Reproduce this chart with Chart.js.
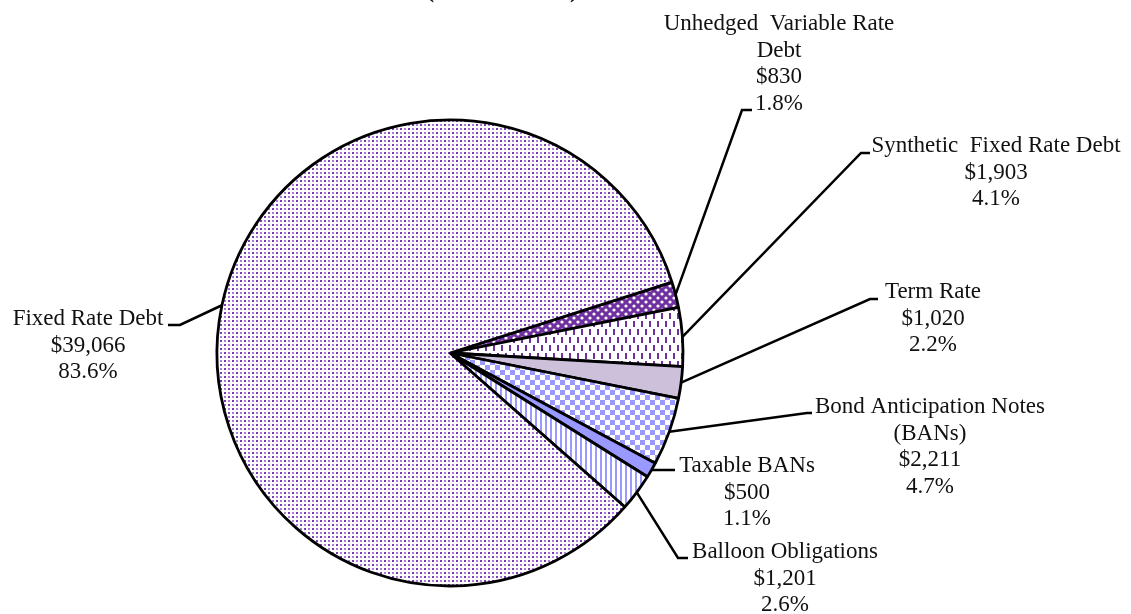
<!DOCTYPE html>
<html>
<head>
<meta charset="utf-8">
<script src="https://cdn.jsdelivr.net/npm/chart.js@4.4.1/dist/chart.umd.min.js"></script>
<style>
  body { margin: 0; background: #fff; }
  #wrap { width: 1131px; height: 614px; }
</style>
</head>
<body>
<div id="wrap"><canvas id="debtPie" width="1131" height="614"></canvas></div>
<script>
// debt by type, $ in millions
const categories = [
  'Unhedged  Variable Rate\nDebt',
  'Synthetic  Fixed Rate Debt',
  'Term Rate',
  'Bond Anticipation Notes\n(BANs)',
  'Taxable BANs',
  'Balloon Obligations',
  'Fixed Rate Debt'
];
const amounts = [830, 1903, 1020, 2211, 500, 1201, 39066];
const chartTitle = '($ in millions)';

const total = amounts.reduce((a, b) => a + b, 0);

// label placement: text center x, first baseline y, leader elbow and end
const labelSpots = [
  { x: 779, y: 30, elbow: [742, 110], end: [752, 110] },
  { x: 996, y: 152, elbow: [861, 153], end: [870, 153] },
  { x: 933, y: 298, elbow: [870, 299], end: [878, 299] },
  { x: 930, y: 413, elbow: [807, 413], end: [812, 413] },
  { x: 747, y: 472, elbow: [663, 470], end: [675, 470] },
  { x: 785, y: 558, elbow: [678, 558], end: [688, 558] },
  { x: 88, y: 325, elbow: [180, 325], end: [168, 325] }
];

function makePattern(w, h, paint) {
  const c = document.createElement('canvas');
  c.width = w;
  c.height = h;
  const g = c.getContext('2d');
  paint(g);
  return document.getElementById('debtPie').getContext('2d').createPattern(c, 'repeat');
}

const purple = '#7030A0';
const periwinkle = '#9999FF';

const fills = [
  // large white dots on dark purple
  makePattern(8, 8, g => {
    g.fillStyle = purple; g.fillRect(0, 0, 8, 8);
    g.fillStyle = '#fff';
    g.beginPath(); g.arc(2, 2, 1.6, 0, Math.PI * 2); g.fill();
    g.beginPath(); g.arc(6, 6, 1.6, 0, Math.PI * 2); g.fill();
  }),
  // purple dashes on white
  makePattern(8, 16, g => {
    g.fillStyle = '#fff'; g.fillRect(0, 0, 8, 16);
    g.fillStyle = purple;
    g.fillRect(1, 1, 2, 6);
    g.fillRect(5, 9, 2, 6);
  }),
  '#CCC0DA',
  // checkerboard
  makePattern(10, 10, g => {
    g.fillStyle = '#fff'; g.fillRect(0, 0, 10, 10);
    g.fillStyle = periwinkle;
    g.fillRect(0, 0, 5, 5);
    g.fillRect(5, 5, 5, 5);
  }),
  periwinkle,
  // vertical stripes
  makePattern(5, 4, g => {
    g.fillStyle = '#fff'; g.fillRect(0, 0, 5, 4);
    g.fillStyle = periwinkle; g.fillRect(0, 0, 2, 4);
  }),
  // small dots
  makePattern(8, 8, g => {
    g.fillStyle = '#fff'; g.fillRect(0, 0, 8, 8);
    g.fillStyle = '#7A3AB4';
    g.fillRect(0, 0, 2, 2); g.fillRect(4, 4, 2, 2);
    g.fillStyle = '#A97FD8';
    g.fillRect(4, 0, 2, 2); g.fillRect(0, 4, 2, 2);
  })
];

const fontFamily = "'Liberation Serif', 'Times New Roman', serif";

const leaderLabels = {
  id: 'leaderLabels',
  afterDraw(chart) {
    const ctx = chart.ctx;
    const meta = chart.getDatasetMeta(0);
    ctx.save();

    // cropped title at the very top
    ctx.font = 'bold 26px ' + fontFamily;
    ctx.fillStyle = '#111';
    ctx.textAlign = 'center';
    ctx.textBaseline = 'alphabetic';
    ctx.fillText(chartTitle, 502, -3);

    ctx.font = '23px ' + fontFamily;
    ctx.strokeStyle = '#000';
    ctx.lineWidth = 2.5;
    meta.data.forEach((arc, i) => {
      const spot = labelSpots[i];
      const mid = (arc.startAngle + arc.endAngle) / 2;
      const sx = arc.x + Math.cos(mid) * arc.outerRadius;
      const sy = arc.y + Math.sin(mid) * arc.outerRadius;
      ctx.beginPath();
      ctx.moveTo(sx, sy);
      ctx.lineTo(spot.elbow[0], spot.elbow[1]);
      ctx.lineTo(spot.end[0], spot.end[1]);
      ctx.stroke();

      const pct = (amounts[i] / total * 100).toFixed(1) + '%';
      const lines = categories[i].split('\n')
        .concat(['$' + amounts[i].toLocaleString('en-US'), pct]);
      lines.forEach((t, k) => {
        ctx.fillText(t, spot.x, spot.y + k * 26.7);
      });
    });
    ctx.restore();
  }
};

new Chart(document.getElementById('debtPie'), {
  type: 'pie',
  data: {
    labels: categories,
    datasets: [{
      data: amounts,
      backgroundColor: fills,
      borderColor: '#000',
      borderWidth: 2.8,
      radius: 233
    }]
  },
  options: {
    responsive: false,
    animation: false,
    events: [],
    rotation: 72.3,
    layout: { padding: { top: 92, bottom: 0, left: 0, right: 231 } },
    plugins: {
      legend: { display: false },
      tooltip: { enabled: false }
    }
  },
  plugins: [leaderLabels]
});
</script>
</body>
</html>
